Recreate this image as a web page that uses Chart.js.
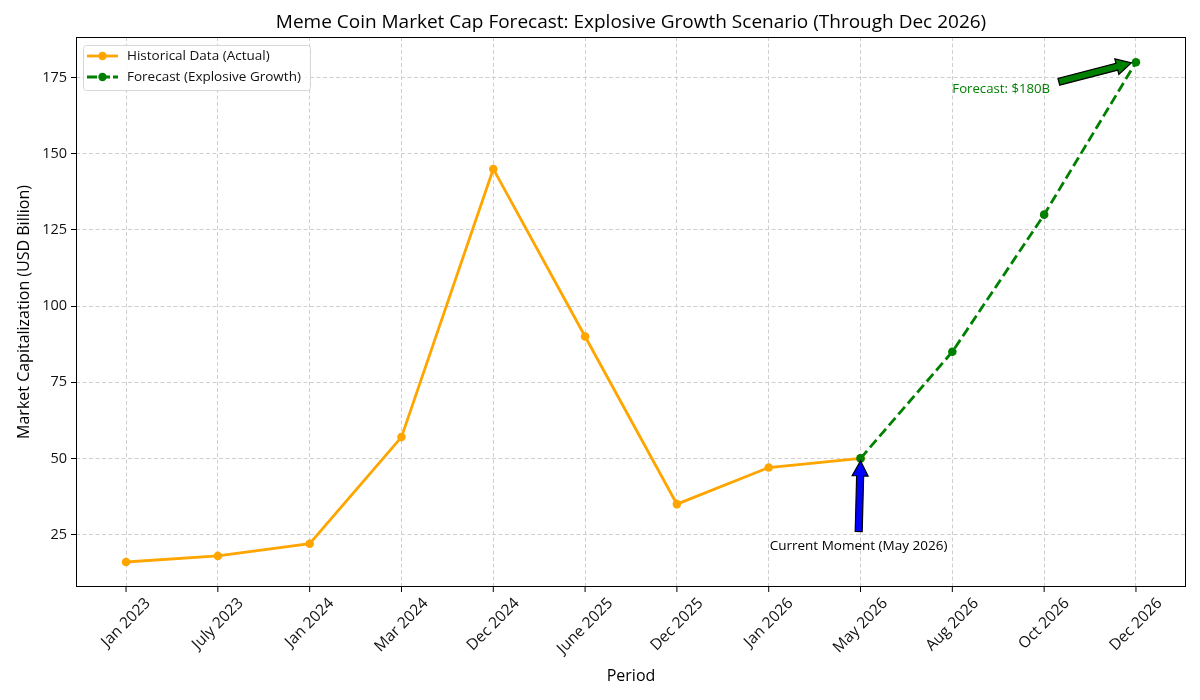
<!DOCTYPE html>
<html>
<head>
<meta charset="utf-8">
<script src="https://cdn.jsdelivr.net/npm/chart.js@4.4.1/dist/chart.umd.min.js"></script>
<style>
  html, body { margin: 0; padding: 0; background: #fff; }
  #wrap { width: 1200px; height: 700px; }
</style>
</head>
<body>
<div id="wrap"><canvas id="c" width="1200" height="700"></canvas></div>
<script>
const categories = ["Jan 2023", "July 2023", "Jan 2024", "Mar 2024", "Dec 2024", "June 2025", "Dec 2025", "Jan 2026", "May 2026", "Aug 2026", "Oct 2026", "Dec 2026"];
const historicalValues = [16, 18, 22, 57, 145, 90, 35, 47, 50];
const forecastStartIndex = 8;
const forecastValues = [50, 85, 130, 180];
const yTickValues = [25, 50, 75, 100, 125, 150, 175];

const titleText = "Meme Coin Market Cap Forecast: Explosive Growth Scenario (Through Dec 2026)";
const xTitle = "Period";
const yTitle = "Market Capitalization (USD Billion)";
const histLabel = "Historical Data (Actual)";
const fcLabel = "Forecast (Explosive Growth)";
const annCurrent = { text: "Current Moment (May 2026)", tx: 8, ty: 20, from: [7.98, 26], to: [8, 49.2] };
const annForecast = { text: "Forecast: $180B", tx: 9, ty: 170, from: [10.16, 173.6], to: [10.95, 179.8] };

const FONT = "'Open Sans', 'Noto Sans', sans-serif";
const ORANGE = "#FFA500";
const GREEN = "#008000";

const histData = historicalValues.map((v, i) => ({ x: i, y: v }));
const fcData = forecastValues.map((v, i) => ({ x: forecastStartIndex + i, y: v }));

function drawArrow(ctx, x1, y1, x2, y2, fill) {
  const dx = x2 - x1, dy = y2 - y1;
  const len = Math.hypot(dx, dy);
  const ux = dx / len, uy = dy / len;
  const px = -uy, py = ux;
  const sw = 3.5, hw = 8, hl = 15;
  const bx = x2 - ux * hl, by = y2 - uy * hl;
  ctx.save();
  ctx.beginPath();
  ctx.moveTo(x1 + px * sw, y1 + py * sw);
  ctx.lineTo(bx + px * sw, by + py * sw);
  ctx.lineTo(bx + px * hw, by + py * hw);
  ctx.lineTo(x2, y2);
  ctx.lineTo(bx - px * hw, by - py * hw);
  ctx.lineTo(bx - px * sw, by - py * sw);
  ctx.lineTo(x1 - px * sw, y1 - py * sw);
  ctx.closePath();
  ctx.fillStyle = fill;
  ctx.fill();
  ctx.lineWidth = 1.2;
  ctx.strokeStyle = "#000";
  ctx.lineJoin = "miter";
  ctx.stroke();
  ctx.restore();
}

const decor = {
  id: "decor",
  afterDraw(chart) {
    const ctx = chart.ctx;
    const a = chart.chartArea;
    const xs = chart.scales.x, ys = chart.scales.y;
    ctx.save();
    // frame
    ctx.strokeStyle = "#000";
    ctx.lineWidth = 1;
    ctx.strokeRect(a.left + 0.5, a.top + 0.5, a.right - a.left - 1, a.bottom - a.top - 1);
    // x tick marks and labels
    ctx.fillStyle = "#111";
    ctx.font = "15.5px " + FONT;
    categories.forEach((lab, i) => {
      const x = xs.getPixelForValue(i);
      ctx.beginPath();
      ctx.moveTo(x, a.bottom);
      ctx.lineTo(x, a.bottom + 5);
      ctx.stroke();
      ctx.save();
      const w = ctx.measureText(lab).width;
      const h = 14;
      const d = Math.SQRT1_2;
      const cy = a.bottom + 9 + (w * d + h * d) / 2;
      ctx.translate(x, cy);
      ctx.rotate(-Math.PI / 4);
      ctx.textAlign = "center";
      ctx.textBaseline = "middle";
      ctx.fillText(lab, 0, 0);
      ctx.restore();
    });
    // title
    ctx.fillStyle = "#000";
    ctx.font = "19px " + FONT;
    ctx.textAlign = "center";
    ctx.textBaseline = "middle";
    ctx.fillText(titleText, (a.left + a.right) / 2, 23);
    // axis titles
    ctx.font = "16px " + FONT;
    ctx.fillText(xTitle, (a.left + a.right) / 2, 676);
    ctx.save();
    ctx.translate(24, (a.top + a.bottom) / 2);
    ctx.rotate(-Math.PI / 2);
    ctx.fillText(yTitle, 0, 0);
    ctx.restore();

    // annotations
    const c1 = annCurrent;
    drawArrow(ctx, xs.getPixelForValue(c1.from[0]), ys.getPixelForValue(c1.from[1]),
      xs.getPixelForValue(c1.to[0]), ys.getPixelForValue(c1.to[1]), "#0000FF");
    ctx.fillStyle = "#000";
    ctx.font = "13.5px " + FONT;
    ctx.textAlign = "center";
    ctx.textBaseline = "alphabetic";
    ctx.fillText(c1.text, xs.getPixelForValue(c1.tx) - 2, ys.getPixelForValue(c1.ty));

    const c2 = annForecast;
    drawArrow(ctx, xs.getPixelForValue(c2.from[0]), ys.getPixelForValue(c2.from[1]),
      xs.getPixelForValue(c2.to[0]), ys.getPixelForValue(c2.to[1]), GREEN);
    ctx.fillStyle = GREEN;
    ctx.font = "13.2px " + FONT;
    ctx.textAlign = "left";
    ctx.fillText(c2.text, xs.getPixelForValue(c2.tx), ys.getPixelForValue(c2.ty));

    // legend
    const lx = 83, ly = 45, lw = 227, lh = 45;
    ctx.fillStyle = "rgba(255,255,255,0.85)";
    ctx.strokeStyle = "#d6d6d6";
    ctx.lineWidth = 1;
    ctx.beginPath();
    ctx.roundRect(lx + 0.5, ly + 0.5, lw, lh, 3);
    ctx.fill();
    ctx.stroke();
    const items = [[histLabel, ORANGE, []], [fcLabel, GREEN, [10, 3]]];
    items.forEach((it, k) => {
      const y = ly + 11 + k * 21;
      ctx.strokeStyle = it[1];
      ctx.lineWidth = 2.8;
      ctx.setLineDash(it[2]);
      ctx.beginPath();
      ctx.moveTo(87, y);
      ctx.lineTo(118, y);
      ctx.stroke();
      ctx.setLineDash([]);
      ctx.fillStyle = it[1];
      ctx.beginPath();
      ctx.arc(102.5, y, 4.2, 0, Math.PI * 2);
      ctx.fill();
      ctx.fillStyle = "#111";
      ctx.font = "13.5px " + FONT;
      ctx.textAlign = "left";
      ctx.textBaseline = "middle";
      ctx.fillText(it[0], 127, y);
    });
    ctx.restore();
  }
};

new Chart(document.getElementById("c"), {
  type: "line",
  data: {
    datasets: [
      {
        label: histLabel,
        data: histData,
        borderColor: ORANGE,
        backgroundColor: ORANGE,
        borderWidth: 2.8,
        pointRadius: 4.3,
        pointBorderWidth: 0,
        pointBackgroundColor: ORANGE,
        tension: 0,
        order: 2
      },
      {
        label: fcLabel,
        data: fcData,
        borderColor: GREEN,
        backgroundColor: GREEN,
        borderWidth: 2.8,
        borderDash: [10, 4.5],
        pointRadius: 4.3,
        pointBorderWidth: 0,
        pointBackgroundColor: GREEN,
        tension: 0,
        order: 1
      }
    ]
  },
  options: {
    responsive: false,
    animation: false,
    devicePixelRatio: 1,
    layout: { padding: { top: 37, right: 14, left: 0, bottom: 0 } },
    plugins: { legend: { display: false }, title: { display: false }, tooltip: { enabled: false } },
    scales: {
      x: {
        type: "linear",
        min: -0.545,
        max: 11.545,
        afterBuildTicks: (s) => { s.ticks = categories.map((_, i) => ({ value: i })); },
        afterFit: (s) => { s.height = 113; },
        ticks: { display: false },
        border: { display: false, dash: [4, 2.5] },
        grid: { color: "#cfcfcf", lineWidth: 1, drawTicks: false }
      },
      y: {
        min: 7.8,
        max: 188.3,
        afterBuildTicks: (s) => { s.ticks = yTickValues.map(v => ({ value: v })); },
        afterFit: (s) => { s.width = 76; },
        ticks: { color: "#111", font: { size: 14.5, family: FONT }, padding: 4, callback: (v) => String(v) },
        border: { display: false, dash: [4, 2.5] },
        grid: { color: "#cfcfcf", lineWidth: 1, tickLength: 5, tickColor: "#000", tickBorderDash: [], tickWidth: 1 }
      }
    }
  },
  plugins: [decor]
});
</script>
</body>
</html>
